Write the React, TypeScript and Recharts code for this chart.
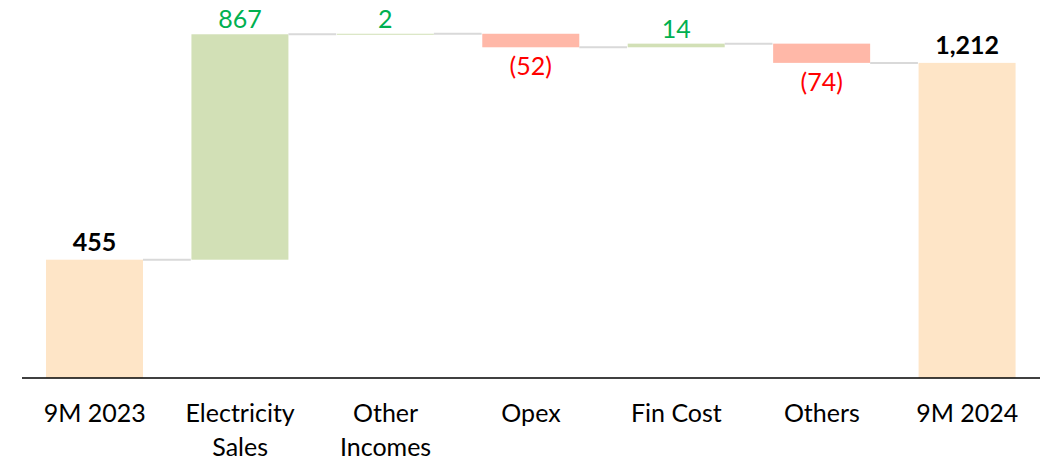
import { BarChart, Bar, XAxis, YAxis } from "recharts";

const categories = [
  "9M 2023",
  "Electricity\nSales",
  "Other\nIncomes",
  "Opex",
  "Fin Cost",
  "Others",
  "9M 2024",
];
const amounts = [455, 867, 2, -52, 14, -74, 1212];
const kinds = ["total", "up", "up", "down", "up", "down", "total"];

const FILL: Record<string, string> = {
  total: "#FEE5C7",
  up: "#D2E0B6",
  down: "#FFB8A8",
};
const LABEL_COLOR: Record<string, string> = {
  total: "#000000",
  up: "#00B050",
  down: "#FF0000",
};
const FONT = "Lato, 'Open Sans', sans-serif";
const GAP = 0.165;

const fmt = (v: number) => {
  const s = Math.abs(v).toLocaleString("en-US");
  return v < 0 ? `(${s})` : s;
};

let running = 0;
const data = categories.map((name, i) => {
  const kind = kinds[i];
  const v = amounts[i];
  let base = 0;
  let size = v;
  if (kind === "total") {
    running = v;
  } else {
    const end = running + v;
    base = Math.min(running, end);
    size = Math.abs(v);
    running = end;
  }
  return { name, base, size, kind, amount: v, last: i === categories.length - 1 };
});

function StepShape(props: any) {
  const { x, y, width, height, payload } = props;
  const kind = payload.kind;
  const endY = kind === "down" ? y + height : y;
  const band = width / (1 - 2 * GAP);
  const gap = band - width;
  const labelY = kind === "down" ? y + height + 28 : kind === "total" ? y - 9 : y - 6;
  return (
    <g>
      <rect x={x} y={y} width={width} height={Math.max(height, 1)} fill={FILL[kind]} />
      {!payload.last && (
        <line
          x1={x + width}
          x2={x + width + gap}
          y1={endY}
          y2={endY}
          stroke="#D9D9D9"
          strokeWidth={2}
        />
      )}
      <text
        x={x + width / 2}
        y={labelY}
        textAnchor="middle"
        fontFamily={FONT}
        fontSize={25}
        fontWeight={kind === "total" ? 700 : 400}
        fill={LABEL_COLOR[kind]}
      >
        {fmt(payload.amount)}
      </text>
    </g>
  );
}

function CategoryTick(props: any) {
  const { x, y, payload } = props;
  const lines = String(payload.value).split("\n");
  return (
    <text
      x={x}
      y={y + 36}
      textAnchor="middle"
      fontFamily={FONT}
      fontSize={25}
      fill="#000000"
    >
      {lines.map((l, i) => (
        <tspan key={i} x={x} dy={i === 0 ? 0 : 34}>
          {l}
        </tspan>
      ))}
    </text>
  );
}

export default function App() {
  return (
    <div
      style={{
        position: "absolute",
        left: 0,
        top: 0,
        width: 1046,
        height: 463,
        background: "#fff",
      }}
    >
      <BarChart
        width={1046}
        height={463}
        data={data}
        margin={{ top: 14, right: 6, bottom: 0, left: 22 }}
        barCategoryGap={`${GAP * 100}%`}
      >
        <XAxis
          dataKey="name"
          interval={0}
          tickLine={false}
          axisLine={{ stroke: "#000000", strokeWidth: 1.5 }}
          tick={<CategoryTick />}
          height={85}
        />
        <YAxis hide domain={[0, 1400]} />
        <Bar dataKey="base" stackId="w" fill="transparent" isAnimationActive={false} />
        <Bar
          dataKey="size"
          stackId="w"
          shape={<StepShape />}
          isAnimationActive={false}
        />
      </BarChart>
    </div>
  );
}
